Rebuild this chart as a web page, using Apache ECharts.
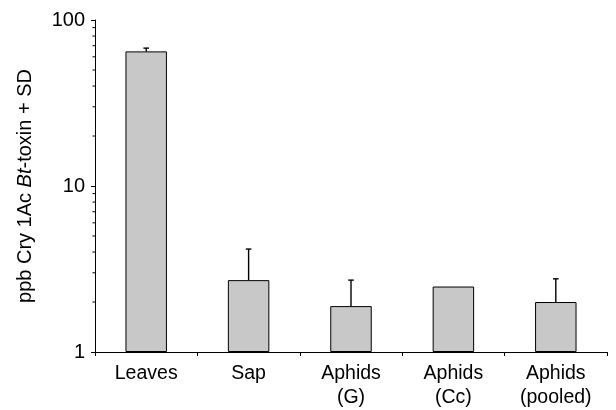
<!DOCTYPE html>
<html>
<head>
<meta charset="utf-8">
<script src="https://cdn.jsdelivr.net/npm/echarts@6/dist/echarts.min.js"></script>
<style>html,body{margin:0;padding:0;background:#fff}#c{width:616px;height:410px}</style>
</head>
<body>
<div id="c"></div>
<script>
const categories = ['Leaves', 'Sap', 'Aphids\n(G)', 'Aphids\n(Cc)', 'Aphids\n(pooled)'];
const means = [64.7, 2.71, 1.89, 2.48, 2.0];
const errorTops = [67.7, 4.17, 2.71, null, 2.76];
const minorTickValues = [2, 3, 4, 5, 6, 7, 8, 9, 20, 30, 40, 50, 60, 70, 80, 90];
const yTicks = [1, 10, 100];

const font = 'Liberation Sans, Arial, Helvetica, sans-serif';
const chart = echarts.init(document.getElementById('c'));

const errData = means.map((m, i) => [i, m, errorTops[i]]).filter(d => d[2] != null);

chart.setOption({
  animation: false,
  grid: { left: 95, right: 9, top: 20, bottom: 58 },
  xAxis: {
    type: 'category',
    data: categories,
    axisLine: { lineStyle: { color: '#000', width: 1 } },
    axisTick: { show: true, length: 4, alignWithLabel: false, lineStyle: { color: '#000' } },
    axisLabel: { color: '#000', fontSize: 19.5, fontFamily: font, margin: 10, lineHeight: 24, interval: 0 }
  },
  yAxis: {
    type: 'log',
    logBase: 10,
    min: yTicks[0],
    max: yTicks[yTicks.length - 1],
    splitLine: { show: false },
    axisLine: { show: true, lineStyle: { color: '#000', width: 1 } },
    axisTick: { show: true, length: 4, lineStyle: { color: '#000' } },
    axisLabel: { color: '#000', fontSize: 20, fontFamily: font, margin: 10 },
    name: '{a|ppb Cry 1Ac }{b|Bt}{a|-toxin + SD}',
    nameLocation: 'middle',
    nameGap: 60,
    nameRotate: 90,
    nameTextStyle: {
      rich: {
        a: { fontSize: 20, fontFamily: font, color: '#000' },
        b: { fontSize: 20, fontFamily: font, color: '#000', fontStyle: 'italic' }
      }
    }
  },
  series: [
    {
      type: 'bar',
      data: means,
      barWidth: '40.5%',
      itemStyle: { color: '#c8c8c8', borderColor: '#000', borderWidth: 1 },
      z: 2
    },
    {
      type: 'custom',
      data: errData,
      z: 3,
      renderItem: function (params, api) {
        const x = api.value(0);
        const p0 = api.coord([x, api.value(1)]);
        const p1 = api.coord([x, api.value(2)]);
        const style = { stroke: '#000', lineWidth: 1.4 };
        return {
          type: 'group',
          children: [
            { type: 'line', shape: { x1: p0[0], y1: p0[1], x2: p1[0], y2: p1[1] }, style: style },
            { type: 'line', shape: { x1: p1[0] - 2.8, y1: p1[1], x2: p1[0] + 2.8, y2: p1[1] }, style: style }
          ]
        };
      }
    },
    {
      type: 'custom',
      data: minorTickValues.map(v => [0, v]),
      z: 3,
      clip: false,
      renderItem: function (params, api) {
        const p = api.coord([0, api.value(1)]);
        const x0 = params.coordSys.x;
        return {
          type: 'line',
          shape: { x1: x0 - 2.5, y1: p[1], x2: x0, y2: p[1] },
          style: { stroke: '#000', lineWidth: 1 }
        };
      }
    }
  ]
});
</script>
</body>
</html>
